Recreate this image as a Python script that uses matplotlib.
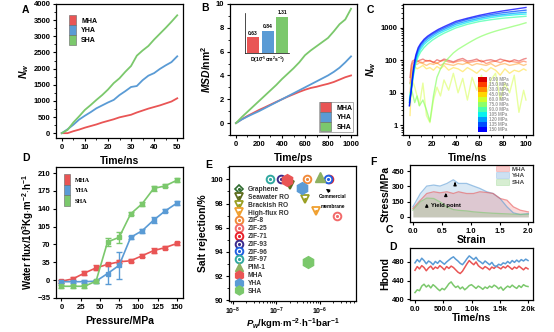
import numpy as np
import matplotlib
matplotlib.use('Agg')
import matplotlib.pyplot as plt
from matplotlib.patches import Patch
from matplotlib.lines import Line2D
from matplotlib.ticker import AutoMinorLocator

plt.rcParams['font.family'] = ['Liberation Sans', 'DejaVu Sans']
plt.rcParams['font.weight'] = 'bold'
plt.rcParams['axes.labelweight'] = 'bold'
plt.rcParams['mathtext.fontset'] = 'custom'
plt.rcParams['mathtext.rm'] = 'Liberation Sans:bold'
plt.rcParams['mathtext.bf'] = 'Liberation Sans:bold'
plt.rcParams['mathtext.it'] = 'Liberation Sans:italic:bold'
plt.rcParams['mathtext.default'] = 'bf'
plt.rcParams['xtick.labelsize'] = 5.5
plt.rcParams['ytick.labelsize'] = 5.5
plt.rcParams['axes.labelsize'] = 7.5
plt.rcParams['axes.linewidth'] = 0.9
plt.rcParams['xtick.major.size'] = 2.5
plt.rcParams['ytick.major.size'] = 2.5
plt.rcParams['xtick.minor.size'] = 1.3
plt.rcParams['ytick.minor.size'] = 1.3
plt.rcParams['xtick.major.pad'] = 1.5
plt.rcParams['ytick.major.pad'] = 1.5

RED, BLUE, GREEN = '#E95555', '#5A9BD5', '#7BC86C'
names = ['MHA', 'YHA', 'SHA']

# ---- A: water count vs time
a_time = [0, 2.5, 5, 7.5, 10, 12.5, 15, 17.5, 20, 22.5, 25, 27.5, 30, 32.5, 35, 37.5, 40, 42.5, 45, 47.5, 50]
a_mha = [0, 0, 60, 110, 170, 220, 270, 330, 380, 430, 490, 530, 570, 640, 700, 760, 810, 860, 920, 980, 1080]
a_yha = [0, 120, 260, 420, 540, 650, 770, 860, 950, 1030, 1180, 1300, 1430, 1460, 1640, 1780, 1860, 1990, 2100, 2200, 2380]
a_sha = [0, 100, 330, 520, 720, 870, 1030, 1180, 1350, 1550, 1700, 1900, 2080, 2400, 2560, 2700, 2900, 3080, 3260, 3450, 3650]

# ---- B: MSD vs time
b_time = [0, 50, 100, 150, 200, 250, 300, 350, 400, 450, 500, 550, 600, 650, 700, 750, 800, 850, 900, 950, 1000]
b_mha = [0, 0.32, 0.6, 0.85, 1.1, 1.32, 1.55, 1.78, 2.0, 2.22, 2.42, 2.62, 2.8, 2.95, 3.05, 3.18, 3.3, 3.45, 3.65, 3.85, 4.0]
b_yha = [0, 0.3, 0.55, 0.78, 1.0, 1.25, 1.5, 1.75, 2.0, 2.25, 2.5, 2.75, 3.0, 3.25, 3.5, 3.75, 4.0, 4.3, 4.65, 5.1, 5.6]
b_sha = [0, 0.5, 0.95, 1.4, 1.85, 2.3, 2.75, 3.2, 3.7, 4.15, 4.6, 5.1, 5.7, 6.1, 6.45, 6.8, 7.15, 7.7, 8.3, 8.7, 9.6]
b_diff = [0.63, 0.84, 1.31]

# ---- C: water count at different pressures (log)
c_labels = ['0.00 MPa', '15.0 MPa', '30.0 MPa', '45.0 MPa', '60.0 MPa', '75.0 MPa',
            '90.0 MPa', '105 MPa', '120 MPa', '135 MPa', '150 MPa']
c_t_noisy = [1, 2, 3, 5, 7, 9, 12, 15, 18, 21, 24, 27, 30, 34, 38, 42, 46, 50, 54, 58, 62, 66, 70, 74, 78, 82, 86, 90, 94, 98, 100]
c_p0 = [30, 70, 95, 105, 90, 100, 110, 95, 100, 85, 105, 95, 110, 100, 90, 105, 115, 95, 100, 110, 90, 100, 105, 95, 110, 100, 90, 105, 95, 110, 115]
c_p15 = [20, 50, 80, 95, 100, 90, 85, 100, 95, 90, 80, 95, 100, 90, 85, 95, 100, 85, 90, 95, 100, 80, 90, 95, 85, 100, 95, 90, 85, 95, 90]
c_p30 = [10, 30, 60, 80, 75, 85, 80, 70, 80, 75, 85, 70, 80, 75, 70, 80, 75, 85, 70, 80, 75, 70, 80, 65, 75, 80, 70, 75, 80, 70, 75]
c_p45 = [2, 15, 45, 65, 55, 60, 70, 55, 60, 50, 65, 55, 70, 50, 60, 55, 45, 60, 50, 40, 55, 45, 60, 50, 35, 55, 40, 50, 45, 55, 50]
c_p60 = [5, 12, 25, 15, 8, 4, 20, 2, 1.2, 6, 15, 8, 25, 12, 40, 10, 28, 6, 30, 12, 35, 8, 25, 40, 6, 20, 10, 35, 2.5, 12, 6]
c_p75 = [20, 15, 10, 5, 8, 4, 6, 3, 1.3, 8, 30, 55, 85, 120, 170, 220, 270, 330, 400, 480, 560, 640, 720, 800, 880, 960, 1050, 1150, 1250, 1380, 1450]
c_t_smooth = [0.5, 1, 2, 3, 4, 5, 6, 8, 10, 13, 16, 20, 25, 30, 40, 50, 60, 70, 80, 90, 100]
c_p90 = [6, 9, 14, 22, 35, 55, 80, 130, 180, 250, 320, 420, 550, 690, 1000, 1300, 1580, 1800, 2000, 2150, 2300]
c_p105 = [5, 8, 13, 22, 40, 65, 95, 160, 220, 310, 390, 500, 650, 800, 1150, 1480, 1800, 2100, 2350, 2550, 2700]
c_p120 = [5, 7, 12, 25, 45, 75, 110, 190, 260, 360, 450, 570, 740, 900, 1300, 1650, 2000, 2350, 2600, 2850, 3050]
c_p135 = [4, 6, 11, 25, 50, 85, 130, 220, 300, 410, 510, 640, 820, 1000, 1450, 1850, 2250, 2600, 2950, 3250, 3550]
c_p150 = [4, 6, 12, 30, 60, 100, 150, 250, 330, 450, 560, 700, 900, 1100, 1600, 2000, 2450, 2900, 3350, 3800, 4300]

# ---- D: water flux vs pressure
d_p = [0, 15, 30, 45, 60, 75, 90, 105, 120, 135, 150]
d_mha = [-2, 2.5, 14, 24, 31, 36, 38, 48, 58, 64, 72]
d_yha = [-3, -3, -3, -2, 13, 29, 84, 97, 118, 136, 151]
d_sha = [-12, -12, -12, -2, 75, 84, 130, 150, 180, 185, 196]
d_mha_err = [3, 4, 3, 5, 3, 3, 3, 3, 5, 3, 3]
d_yha_err = [3, 3, 3, 3, 20, 26, 3, 4, 6, 3, 4]
d_sha_err = [3, 3, 3, 3, 8, 11, 3, 4, 5, 3, 4]

# ---- E: salt rejection vs permeability
e_labels = ['Seawater RO', 'Brackish RO', 'High-flux RO', 'ZIF-8', 'ZIF-25', 'ZIF-71',
            'ZIF-93', 'ZIF-96', 'ZIF-97', 'PIM-1', 'MHA', 'YHA', 'SHA']
e_pw = [2.1e-7, 4.5e-7, 8.0e-7, 5.1e-7, 2.5e-6, 1.6e-6, 1.3e-7, 1.5e-6, 7.0e-8, 1.0e-6, 1.76e-7, 3.8e-7, 5.4e-7]
e_rej = [99.5, 98.4, 97.4, 100.0, 97.0, 100.0, 100.0, 100.0, 100.0, 100.2, 99.95, 99.3, 93.2]

# ---- F: stress-strain
f_strain = [0.0, 0.13, 0.24, 0.36, 0.47, 0.59, 0.70, 0.79, 0.93, 1.05, 1.16, 1.28, 1.39, 1.51, 1.63, 1.74, 1.86, 2.0]
f_mha = [82, 164, 230, 247, 237, 247, 230, 247, 230, 230, 247, 240, 230, 181, 164, 99, 66, 49]
f_yha = [99, 230, 303, 313, 303, 329, 365, 329, 329, 303, 280, 247, 230, 181, 99, 40, 23, 33]
f_sha = [66, 150, 185, 181, 148, 99, 72, 65, 59, 50, 45, 40, 36, 33, 30, 27, 26, 26]

# ---- G: hydrogen bonds vs time
g_time = np.arange(0, 2001, 40)
g_yha = [478, 485, 480, 488, 483, 476, 482, 479, 474, 481, 477, 483, 479, 475, 480, 484, 488, 491, 486, 482, 477, 474, 480, 487, 493,
         489, 485, 490, 483, 480, 476, 482, 478, 474, 479, 472, 470, 475, 473, 478, 476, 481, 477, 483, 479, 484, 480, 485, 482, 486, 483]
g_mha = [462, 470, 465, 472, 468, 461, 467, 471, 464, 469, 466, 472, 468, 463, 470, 466, 471, 468, 463, 458, 455, 460, 468, 476, 483,
         478, 474, 480, 472, 468, 465, 470, 467, 463, 469, 466, 471, 468, 465, 470, 467, 472, 468, 464, 469, 466, 471, 467, 463, 468, 465]
g_sha = [414, 420, 418, 428, 432, 426, 430, 424, 431, 427, 422, 418, 423, 420, 426, 433, 437, 430, 425, 428, 422, 426, 420, 424, 429,
         431, 427, 423, 428, 425, 421, 426, 423, 428, 425, 430, 427, 422, 426, 419, 424, 428, 425, 430, 426, 423, 429, 425, 431, 428, 427]

W, H = 554, 332
fig = plt.figure(figsize=(W / 100, H / 100), dpi=100)


def add_ax(l, t, r, b):
    return fig.add_axes([l / W, 1 - b / H, (r - l) / W, (b - t) / H])


def block_legend(ax, colors, labels, anchor, loc='upper left', fs=5, hh=1.8, hl=1.0, **kw):
    handles = [Patch(facecolor=c, edgecolor='#666666', linewidth=0.4) for c in colors]
    return ax.legend(handles, labels, loc=loc, bbox_to_anchor=anchor, fontsize=fs,
                     labelspacing=0, handleheight=hh, handlelength=hl, handletextpad=0.8,
                     borderaxespad=0, **kw)


# A
ax = add_ax(56, 4, 183, 138)
for y, c in zip([a_mha, a_yha, a_sha], [RED, BLUE, GREEN]):
    ax.plot(a_time, y, color=c, lw=1.3)
ax.set_xlim(-2.5, 52.5)
ax.set_ylim(-150, 4000)
ax.set_xticks([0, 10, 20, 30, 40, 50])
ax.set_yticks(range(0, 4001, 500))
ax.xaxis.set_minor_locator(AutoMinorLocator(2))
ax.yaxis.set_minor_locator(AutoMinorLocator(2))
ax.set_xlabel('Time/ns', labelpad=4)
ax.set_ylabel(r'$\mathit{N}_{\mathit{w}}$', labelpad=2)
block_legend(ax, [RED, BLUE, GREEN], names, (0.079, 0.935), frameon=False)

# B
ax = add_ax(230, 4, 357, 135)
for y, c in zip([b_mha, b_yha, b_sha], [RED, BLUE, GREEN]):
    ax.plot(b_time, y, color=c, lw=1.3)
ax.set_xlim(-52, 1052)
ax.set_ylim(-1, 10)
ax.set_xticks([0, 200, 400, 600, 800, 1000])
ax.set_yticks([0, 2, 4, 6, 8, 10])
ax.xaxis.set_minor_locator(AutoMinorLocator(2))
ax.yaxis.set_minor_locator(AutoMinorLocator(2))
ax.set_xlabel('Time/ps', labelpad=4)
ax.set_ylabel(r'$\mathit{MSD}$/nm$^2$', labelpad=2)
leg = block_legend(ax, [RED, BLUE, GREEN], names, (0.97, 0.023), loc='lower right',
                   fs=5, hh=1.75, hl=1.6, frameon=True, fancybox=False, borderpad=0.1)
leg.get_frame().set_edgecolor('#888888')
leg.get_frame().set_linewidth(0.6)
ins = ax.inset_axes([0.118, 0.626, 0.346, 0.305])
ins.bar([0, 1, 2], b_diff, width=0.84, color=[RED, BLUE, GREEN])
for i, v in enumerate(b_diff):
    ins.text(i, v + 0.05, f'{v:.2f}', ha='center', va='bottom', fontsize=3.6)
ins.set_xlim(-0.55, 2.45)
ins.set_ylim(0.11, 1.43)
ins.set_xticks([])
ins.set_yticks([])
ins.spines['top'].set_visible(False)
ins.spines['right'].set_visible(False)
ins.spines['left'].set_linewidth(0.5)
ins.spines['bottom'].set_linewidth(0.5)
ins.patch.set_alpha(0)
ins.set_xlabel(r'D(10$^{-5}$cm$^2$s$^{-1}$)', fontsize=3.6, labelpad=1.5)

# C
ax = add_ax(403, 4, 533, 135)
c_cols = plt.cm.jet(np.linspace(0.92, 0.12, 11))
noisy = [c_p0, c_p15, c_p30, c_p45, c_p60, c_p75]
smooth = [c_p90, c_p105, c_p120, c_p135, c_p150]
for i, y in enumerate(noisy):
    ax.plot(c_t_noisy, y, color=c_cols[i], lw=1.0, alpha=0.45 if i != 5 else 0.7)
for i, y in enumerate(smooth):
    ax.plot(c_t_smooth, y, color=c_cols[6 + i], lw=1.0, alpha=0.75)
ax.set_yscale('log')
ax.set_xlim(-5, 106)
ax.set_ylim(0.5, 5500)
ax.set_xticks([0, 20, 40, 60, 80, 100])
ax.set_yticks([1, 10, 100, 1000], labels=['1', '10', '100', '1000'])
ax.xaxis.set_minor_locator(AutoMinorLocator(2))
ax.set_xlabel('Time/ns', labelpad=4)
ax.set_ylabel(r'$\mathit{N}_{\mathit{w}}$', labelpad=2)
hs = [Patch(facecolor=c, edgecolor='none') for c in c_cols]
ax.legend(hs, c_labels, loc='upper left', bbox_to_anchor=(0.577, 0.443), fontsize=3.3,
          labelspacing=0, handleheight=1.1, handlelength=2.0, handletextpad=0.4,
          borderaxespad=0, borderpad=0, frameon=False, labelcolor='#9a9a9a')

# D
ax = add_ax(56, 167, 183, 298)
for y, e, c in zip([d_mha, d_yha, d_sha], [d_mha_err, d_yha_err, d_sha_err], [RED, BLUE, GREEN]):
    ax.errorbar(d_p, y, yerr=e, color=c, marker='s', ms=3, lw=1.2, capsize=2, elinewidth=1, capthick=1)
ax.set_xlim(-7, 158)
ax.set_ylim(-35, 222)
ax.set_xticks([0, 25, 50, 75, 100, 125, 150])
ax.set_yticks([-35, 0, 35, 70, 105, 140, 175, 210])
ax.set_xlabel('Pressure/MPa', labelpad=4)
ax.set_ylabel(r'Water flux/10$^3$Kg$\cdot$m$^{-2}$$\cdot$h$^{-1}$', fontsize=7, labelpad=1)
leg = block_legend(ax, [RED, BLUE, GREEN], names, (0.047, 0.962), fs=4.5, hh=2.2, hl=0.9, frameon=False,
                   prop={'family': 'Liberation Serif', 'weight': 'bold', 'size': 4.5})

# E
ax = add_ax(229, 166, 356, 301)
ring = dict(ls='none', marker='o', mfc='white', mew=1.4, ms=5.5)
tri = dict(ls='none', mfc='white', mew=1.3, ms=6)
styles = {
    'Seawater RO': ('v', '#5C6B1C', tri),
    'Brackish RO': ('v', '#9A9F22', tri),
    'High-flux RO': ('v', '#F0A030', tri),
    'ZIF-8': ('o', '#F08A3A', ring),
    'ZIF-25': ('o', '#F26A6A', ring),
    'ZIF-71': ('o', '#E8202A', ring),
    'ZIF-93': ('o', '#3B2A8C', ring),
    'ZIF-96': ('o', '#2060E0', ring),
    'ZIF-97': ('o', '#30A8A0', ring),
}
handles = [(Line2D([], [], ls='none', marker='D', mfc='white', mec='#2E6B2E', mew=1.2, ms=4.5),
            Line2D([], [], ls='none', marker='.', color='#2E6B2E', ms=2.5))]
labels = ['Graphene']
for lab, x, y in zip(e_labels, e_pw, e_rej):
    if lab in styles:
        m, c, st = styles[lab]
        kw = dict(st)
        kw['marker'] = m
        h1, = ax.plot([x], [y], mec=c, **kw)
        h2, = ax.plot([x], [y], ls='none', marker='.', color=c, ms=2.5)
        handles.append((h1, h2))
    elif lab == 'PIM-1':
        ax.plot([x], [y], ls='none', marker='^', color='#8DB060', ms=7)
        handles.append(Line2D([], [], ls='none', marker='^', color='#8DB060', ms=5.5))
    else:
        c = {'MHA': RED, 'YHA': BLUE, 'SHA': GREEN}[lab]
        ax.plot([x], [y], ls='none', marker='h', color=c, ms=8.5)
        handles.append(Line2D([], [], ls='none', marker='h', color=c, ms=6.5))
    labels.append(lab)
ax.annotate('', xy=(1.22e-6, 99.35), xytext=(1.9e-6, 98.85),
            arrowprops=dict(arrowstyle='-|>', color='black', lw=0.8, mutation_scale=5))
ax.text(1.95e-6, 98.2, 'Commercial\nmembrane', fontsize=3.4, ha='center', va='center', linespacing=2.2)
ax.set_xscale('log')
ax.set_xlim(10 ** -8.09, 10 ** -5.17)
ax.set_ylim(89.95, 101.1)
ax.set_yticks([90, 92, 94, 96, 98, 100])
ax.yaxis.set_minor_locator(AutoMinorLocator(2))
ax.tick_params(axis='x', which='major', labelsize=5, pad=1)
ax.set_xlabel(r'$\mathit{P}_{\mathit{w}}$/kgm$\cdot$m$^{-2}$$\cdot$h$^{-1}$bar$^{-1}$', fontsize=6.8, labelpad=0)
ax.set_ylabel('Salt rejection/%', labelpad=2)
ax.legend(handles, labels, loc='upper left', bbox_to_anchor=(0.055, 0.85), fontsize=4.8,
          labelspacing=0.12, handlelength=1.0, handletextpad=0.8, borderaxespad=0, borderpad=0,
          frameon=False, labelcolor='#333333')

# F
ax = add_ax(410, 165, 533, 222)
for y, c in zip([f_yha, f_mha, f_sha], [BLUE, RED, GREEN]):
    ax.fill_between(f_strain, y, color=c, alpha=0.22, lw=0)
    ax.plot(f_strain, y, color=c, lw=0.9, alpha=0.6)
for x0, y0, y1 in [(0.24, 72, 158), (0.57, 181, 263), (0.73, 303, 368)]:
    ax.annotate('', xy=(x0, y1), xytext=(x0, y0),
                arrowprops=dict(arrowstyle='-|>', color='black', lw=0.9, mutation_scale=4))
ax.text(0.31, 115, 'Yield point', fontsize=4.2, va='center')
ax.set_xlim(-0.05, 2.08)
ax.set_ylim(-50, 510)
ax.set_xticks([0, 0.5, 1.0, 1.5, 2.0], labels=['0.0', '0.5', '1.0', '1.5', '2.0'])
ax.set_yticks([0, 150, 300, 450])
ax.set_xlabel('Strain', labelpad=0)
ax.set_ylabel('Stress/MPa', labelpad=1)
hs = [Patch(facecolor=c, edgecolor=c, alpha=0.3, lw=0.6) for c in [RED, BLUE, GREEN]]
ax.legend(hs, names, loc='upper left', bbox_to_anchor=(0.7, 0.99), fontsize=4.5,
          labelspacing=0.15, handleheight=1.0, handlelength=2.0, handletextpad=0.5,
          borderaxespad=0, borderpad=0, frameon=False, labelcolor='#444444')

# G
ax = add_ax(410, 248, 533, 300)
for y, c in zip([g_sha, g_mha, g_yha], [GREEN, RED, BLUE]):
    ax.plot(g_time, y, color=c, lw=1.1)
ax.set_xlim(-88, 2088)
ax.set_ylim(398, 510)
ax.set_xticks([0, 500, 1000, 1500, 2000], labels=['0.0', '500.0', '1.0k', '1.5k', '2.0k'])
ax.set_yticks([400, 440, 480])
ax.set_xlabel('Time/ns', labelpad=0)
ax.set_ylabel('Hbond', labelpad=1)

for s, x, y in [('A', 25, 10), ('B', 205, 8), ('C', 370, 10), ('D', 26, 158), ('E', 209, 165),
                ('F', 373, 162), ('C', 389, 230), ('D', 393, 247)]:
    fig.text(x / W, 1 - y / H, s, fontsize=7.5, fontweight='bold', ha='center', va='center')

fig.savefig('out.png', dpi=100)
